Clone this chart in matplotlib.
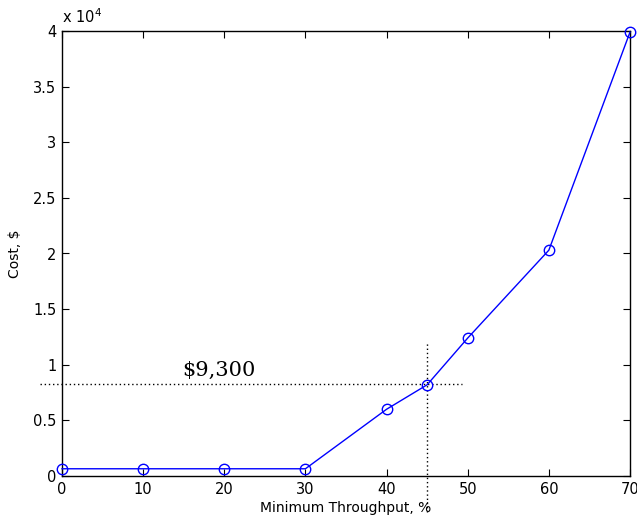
import matplotlib
matplotlib.use("Agg")
import matplotlib.pyplot as plt

throughput = [0, 10, 20, 30, 40, 45, 50, 60, 70]
cost = [650, 650, 650, 650, 6000, 8200, 12400, 20300, 39900]

ref_x = 45
ref_y = 8250
ref_label = "$9,300"

fig = plt.figure(figsize=(6.37, 5.25), dpi=100)
ax = fig.add_axes([62/637, 49/525, 568/637, 445/525])

ax.plot(throughput, cost, color="#0000ff", lw=1.0, marker="o", ms=7.5,
        mfc="none", mec="#0000ff", mew=1.0, clip_on=False, zorder=3)

ax.plot([-2.7, 49.3], [ref_y, ref_y], color="black", lw=1.0, ls=(0, (1, 2)),
        clip_on=False, zorder=2)
ax.plot([ref_x, ref_x], [-3200, 12000], color="black", lw=1.0, ls=(0, (1, 2)),
        clip_on=False, zorder=2)
ax.text(14.8, 9000, ref_label, family="DejaVu Serif", fontsize=15,
        ha="left", va="baseline")

ax.set_xlim(0, 70)
ax.set_ylim(0, 40000)
ax.set_xticks(range(0, 71, 10))
ax.set_yticks([i * 5000 for i in range(9)])
ax.set_yticklabels(["0", "0.5", "1", "1.5", "2", "2.5", "3", "3.5", "4"])
ax.tick_params(direction="in", length=5, width=0.8, labelsize=10.5,
               top=True, right=True, pad=4)
for s in ax.spines.values():
    s.set_linewidth(1.0)

ax.set_xlabel("Minimum Throughput, %", fontsize=10, labelpad=3)
ax.set_ylabel("Cost, $", fontsize=10, labelpad=8)
ax.text(0, 1.012, r"x 10$^{4}$", transform=ax.transAxes, fontsize=10.5,
        ha="left", va="bottom")

fig.savefig("out.png", dpi=100)
